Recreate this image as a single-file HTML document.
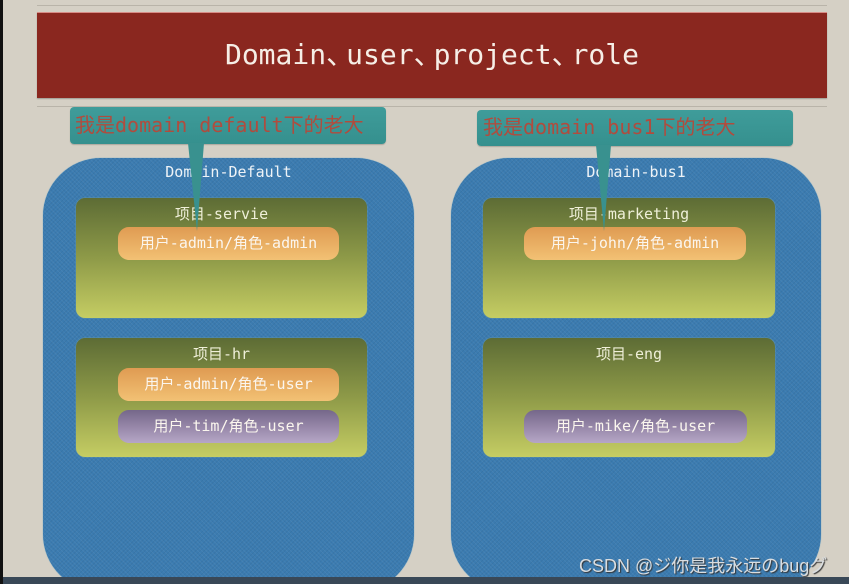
<!DOCTYPE html>
<html><head><meta charset="utf-8">
<style>
html,body{margin:0;padding:0;width:849px;height:584px;overflow:hidden;}
body{background:#394857;font-family:"DejaVu Sans Mono","Liberation Mono","Noto Sans CJK SC",monospace;}
#wrap{position:relative;width:849px;height:584px;overflow:hidden;background:#394857;}
#stage{position:absolute;left:0;top:0;width:849px;height:577px;overflow:hidden;background:#d5d0c5;}
.abs{position:absolute;}
.strip{left:0;top:0;width:3px;height:584px;background:#111;z-index:20;}
.line{left:37px;width:790px;height:1px;background:#b9b4a9;}
.banner{left:37px;top:12px;width:790px;height:86px;background:#8a271f;border-top:1px solid #d88c86;box-sizing:border-box;box-shadow:0 1px 1px rgba(0,0,0,.25);}
.title{left:37px;top:12px;width:790px;height:86px;line-height:86px;text-align:center;color:#f6eee6;font-size:28px;white-space:nowrap;}
.title .c{display:inline-block;width:20px;overflow:visible;text-align:left;}
.callout{background:linear-gradient(#3f9c9a,#35908e);border-radius:4px;box-shadow:0 1px 1px rgba(0,0,0,.2);}
.ctext{color:#b04c3e;font-size:20px;white-space:nowrap;line-height:20px;}
.blob{background:#3b7bb0;border-radius:58px;box-shadow:0 0 1px #5aa0c8;
 background-image:repeating-linear-gradient(45deg,rgba(255,255,255,.05) 0 1px,transparent 1px 3px),repeating-linear-gradient(-45deg,rgba(0,0,0,.05) 0 1px,transparent 1px 3px);}
.dname{color:#eef3f7;font-size:15px;text-align:center;white-space:nowrap;}
.proj{background:linear-gradient(#5d6c35,#8e9a48 50%,#c5cd63);border-radius:9px;box-shadow:0 0 1px #9fc2a0;}
.plabel{color:#efefd8;font-size:15px;text-align:center;white-space:nowrap;}
.pill{border-radius:11px;color:#fbf6ee;font-size:15px;text-align:center;line-height:33px;white-space:nowrap;}
.org{background:linear-gradient(#df9b52,#f2c174);}
.pur{background:linear-gradient(#75678a,#b6a6c6);}
.wm{left:579px;top:552px;font-family:"Liberation Sans","Noto Sans CJK JP",sans-serif;font-size:18px;color:#d9dde0;white-space:nowrap;text-shadow:1px 1px 1px #333;z-index:16;}
</style></head><body>
<div id="wrap">
<div id="stage">
<div class="abs line" style="top:5px"></div>
<div class="abs banner"></div>
<div class="abs title">Domain<span class="c">、</span>user<span class="c">、</span>project<span class="c">、</span>role</div>
<div class="abs line" style="top:106px"></div>

<!-- left domain -->
<div class="abs blob" style="left:43px;top:158px;width:371px;height:434px;"></div>
<div class="abs dname" style="left:43px;top:163px;width:371px;">Domain-Default</div>

<div class="abs proj" style="left:76px;top:198px;width:291px;height:120px;"></div>
<div class="abs plabel" style="left:76px;top:203px;width:291px;">项目-servie</div>
<div class="abs pill org" style="left:118px;top:227px;width:221px;height:33px;">用户-admin/角色-admin</div>

<div class="abs proj" style="left:76px;top:338px;width:291px;height:119px;"></div>
<div class="abs plabel" style="left:76px;top:343px;width:291px;">项目-hr</div>
<div class="abs pill org" style="left:118px;top:368px;width:221px;height:33px;">用户-admin/角色-user</div>
<div class="abs pill pur" style="left:118px;top:410px;width:221px;height:33px;">用户-tim/角色-user</div>

<!-- right domain -->
<div class="abs blob" style="left:451px;top:158px;width:370px;height:434px;"></div>
<div class="abs dname" style="left:451px;top:163px;width:370px;">Domain-bus1</div>

<div class="abs proj" style="left:483px;top:198px;width:292px;height:120px;"></div>
<div class="abs plabel" style="left:483px;top:203px;width:292px;">项目-marketing</div>
<div class="abs pill org" style="left:524px;top:227px;width:222px;height:33px;">用户-john/角色-admin</div>

<div class="abs proj" style="left:483px;top:338px;width:292px;height:119px;"></div>
<div class="abs plabel" style="left:483px;top:343px;width:292px;">项目-eng</div>
<div class="abs pill pur" style="left:524px;top:410px;width:223px;height:33px;">用户-mike/角色-user</div>

<!-- callouts -->
<div class="abs callout" style="left:70px;top:107px;width:316px;height:37px;"></div>
<div class="abs ctext" style="left:75px;top:115px;">我是domain default下的老大</div>
<div class="abs callout" style="left:477px;top:110px;width:316px;height:36px;"></div>
<div class="abs ctext" style="left:483px;top:117px;">我是domain bus1下的老大</div>
<svg class="abs" style="left:0;top:0" width="849" height="577">
<polygon points="188,143 204,143 197,231" fill="#39918f"/>
<polygon points="596,145 611,145 604,231" fill="#39918f"/>
</svg>
<div class="abs wm">CSDN @ジ你是我永远のbugグ</div>
</div>
<div class="abs strip"></div>
</div>
</body></html>
